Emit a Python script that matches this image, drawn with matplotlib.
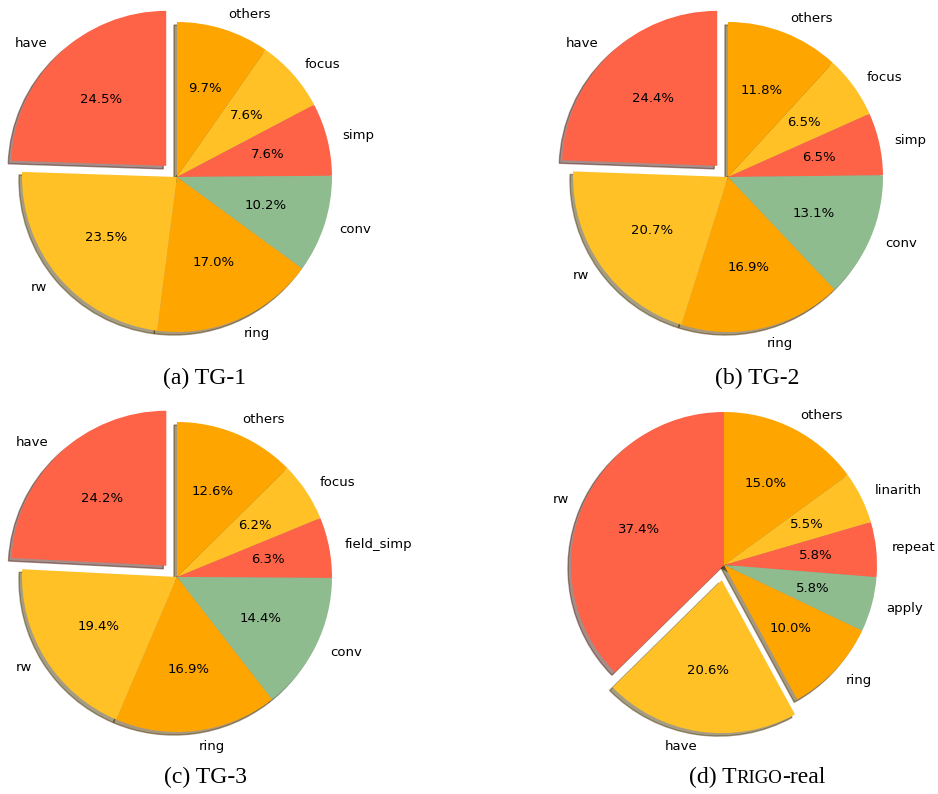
import matplotlib
matplotlib.use("Agg")
import matplotlib.pyplot as plt
from matplotlib.offsetbox import TextArea, HPacker, AnnotationBbox

# ---- data ----
labels_a = ["others", "focus", "simp", "conv", "ring", "rw", "have"]
values_a = [9.7, 7.6, 7.6, 10.2, 17.0, 23.5, 24.5]

labels_b = ["others", "focus", "simp", "conv", "ring", "rw", "have"]
values_b = [11.8, 6.5, 6.5, 13.1, 16.9, 20.7, 24.4]

labels_c = ["others", "focus", "field_simp", "conv", "ring", "rw", "have"]
values_c = [12.6, 6.2, 6.3, 14.4, 16.9, 19.4, 24.2]

labels_d = ["others", "linarith", "repeat", "apply", "ring", "have", "rw"]
values_d = [15.0, 5.5, 5.8, 5.8, 10.0, 20.6, 37.4]

exploded = "have"
palette = ["#FFA500", "#FFC125", "#FF6347", "#8FBC8F"]

W, H = 938, 794
fig = plt.figure(figsize=(W / 100, H / 100), dpi=100)


def add_pie(cx, cy, r, labels, values):
    s = 230  # half size of axes in px
    ax = fig.add_axes([(cx - s) / W, (H - cy - s) / H, 2 * s / W, 2 * s / H])
    colors = [palette[i % len(palette)] for i in range(len(values))]
    explode = [0.1 if l == exploded else 0 for l in labels]
    ax.pie(values, labels=labels, colors=colors, explode=explode,
           startangle=90, counterclock=False,
           shadow=dict(ox=-0.014, oy=-0.014),
           autopct=lambda p: f"{p:.1f}%", pctdistance=0.6, labeldistance=1.1,
           textprops=dict(fontsize=9.5, family="DejaVu Sans"))
    lim = s / r
    ax.set_xlim(-lim, lim)
    ax.set_ylim(-lim, lim)
    ax.set_aspect("equal")
    ax.axis("off")
    return ax


add_pie(177, 177, 155, labels_a, values_a)
add_pie(728, 177, 155, labels_b, values_b)
add_pie(177, 577, 155, labels_c, values_c)
add_pie(724, 565, 153, labels_d, values_d)

cap_font = dict(family="Liberation Serif", size=17)
fig.text(205 / W, 1 - 378 / H, "(a) TG-1", ha="center", va="center", **cap_font)
fig.text(757 / W, 1 - 378 / H, "(b) TG-2", ha="center", va="center", **cap_font)
fig.text(205 / W, 1 - 777 / H, "(c) TG-3", ha="center", va="center", **cap_font)

# small caps caption for (d)
parts = [TextArea("(d) T", textprops=dict(family="Liberation Serif", size=17)),
         TextArea("RIGO", textprops=dict(family="Liberation Serif", size=13.5)),
         TextArea("-real", textprops=dict(family="Liberation Serif", size=17))]
box = HPacker(children=parts, align="baseline", pad=0, sep=0)
ab = AnnotationBbox(box, (757 / W, 1 - 777 / H), xycoords="figure fraction",
                    frameon=False, box_alignment=(0.5, 0.5), pad=0)
fig.add_artist(ab)

fig.savefig("out.png", dpi=100)
